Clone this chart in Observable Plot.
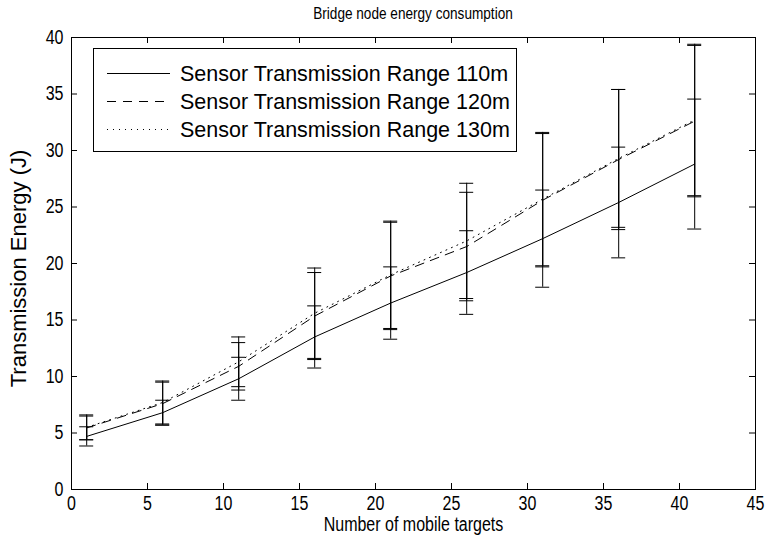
<!DOCTYPE html>
<html><head><meta charset="utf-8">
<script src="https://cdn.jsdelivr.net/npm/d3@7"></script>
<script src="https://cdn.jsdelivr.net/npm/@observablehq/plot@0.6"></script>
<style>
body{margin:0;background:#fff;font-family:"Liberation Sans",Arial,sans-serif;}
#wrap{position:relative;width:778px;height:544px;overflow:hidden;}
#chart{position:absolute;left:0;top:0;}
#title{position:absolute;left:71px;width:684px;top:0;height:28px;line-height:28px;text-align:center;font-size:17px;color:#000;white-space:nowrap;transform:scaleX(0.8);transform-origin:342px 0;}
#legend{position:absolute;left:93px;top:48px;}
</style></head><body>
<div id="wrap"><div id="chart"></div><div id="title">Bridge node energy consumption</div><div id="legend"></div></div>
<script>
// ---- data ----
const targets = [1, 6, 11, 16, 21, 26, 31, 36, 41];
const energy110 = [4.7, 6.8, 9.8, 13.5, 16.5, 19.2, 22.2, 25.4, 28.8];
const error110  = [0.85, 1.1, 1.9, 2.75, 3.2, 3.7, 4.3, 4.9, 5.75];
const energy120 = [5.45, 7.6, 10.9, 15.35, 18.9, 21.5, 25.6, 29.2, 32.6];
const error120  = [1.05, 1.9, 2.1, 3.85, 4.75, 4.8, 5.9, 6.2, 6.7];
const energy130 = [5.5, 7.7, 11.3, 15.6, 19.0, 22.0, 25.7, 29.3, 32.7];
const error130  = [1.1, 1.9, 2.2, 4.0, 4.75, 5.1, 5.9, 6.1, 6.7];
const seriesNames = ["Sensor Transmission Range 110m", "Sensor Transmission Range 120m", "Sensor Transmission Range 130m"];
const xTicks = [0, 5, 10, 15, 20, 25, 30, 35, 40, 45];
const yTicks = [0, 5, 10, 15, 20, 25, 30, 35, 40];
const titleText = "Bridge node energy consumption";
const xLabel = "Number of mobile targets";
const yLabel = "Transmission Energy (J)";

// ---- build table ----
const seriesValues = [[energy110, error110], [energy120, error120], [energy130, error130]];
const rows = [];
seriesNames.forEach((name, s) => {
  targets.forEach((t, i) => rows.push({series: name, x: t, y: seriesValues[s][0][i], e: seriesValues[s][1][i]}));
});
const dashes = [null, "9,7", "1,5"];

const W = 778, H = 544;
const mL = 71, mR = 23, mT = 37, mB = 55;
const plotW = W - mL - mR, plotH = H - mT - mB;
const font = "'Liberation Sans', Arial, sans-serif";

const marks = [
  Plot.frame({stroke: "#000", strokeWidth: 1}),
  Plot.tickX(xTicks, {x: d => d, insetTop: plotH - 6, stroke: "#000"}),
  Plot.tickX(xTicks, {x: d => d, insetBottom: plotH - 6, stroke: "#000"}),
  Plot.tickY(yTicks, {y: d => d, insetRight: plotW - 6, stroke: "#000"}),
  Plot.tickY(yTicks, {y: d => d, insetLeft: plotW - 6, stroke: "#000"}),
  Plot.axisX(xTicks, {tickSize: 0, tickPadding: 6, fontSize: 20, label: null}),
  Plot.axisY(yTicks, {tickSize: 0, tickPadding: 8, fontSize: 20, label: null}),
  Plot.text([xLabel], {frameAnchor: "bottom", dy: 41, text: d => d, fontSize: 20, fill: "#000", ariaLabel: () => "xlabel"}),
  Plot.text([yLabel], {frameAnchor: "left", dx: -53, dy: 5, rotate: -90, textAnchor: "middle", text: d => d, fontSize: 22, fill: "#000"})
];
seriesNames.forEach((name, s) => {
  const d = rows.filter(r => r.series === name);
  marks.push(
    Plot.line(d, {x: "x", y: "y", stroke: "#000", strokeWidth: 1, strokeDasharray: dashes[s] || undefined}),
    Plot.ruleX(d, {x: "x", y1: r => r.y - r.e, y2: r => r.y + r.e, stroke: "#000", strokeWidth: 1}),
    Plot.ruleY(d, {y: r => r.y - r.e, x1: "x", x2: "x", insetLeft: -7, insetRight: -7, stroke: "#000", strokeWidth: 1}),
    Plot.ruleY(d, {y: r => r.y + r.e, x1: "x", x2: "x", insetLeft: -7, insetRight: -7, stroke: "#000", strokeWidth: 1})
  );
});

const chart = Plot.plot({
  width: W, height: H,
  marginLeft: mL, marginRight: mR, marginTop: mT, marginBottom: mB,
  style: {fontFamily: font, fontSize: "20px", color: "#000", background: "#fff", overflow: "visible"},
  x: {domain: [0, 45]},
  y: {domain: [0, 40]},
  marks
});
document.getElementById("chart").appendChild(chart);
document.getElementById("title").textContent = titleText;

// horizontally condense the horizontal texts (the reference glyphs are tall and narrow)
function condense(el, sx) {
  const t = el.getAttribute("transform") || "";
  el.setAttribute("transform", `${t} scale(${sx},1)`);
}
chart.querySelectorAll('[aria-label="x-axis tick label"] text, [aria-label="y-axis tick label"] text, text[aria-label="xlabel"]')
  .forEach(el => condense(el, 0.8));

// ---- legend ----
const lg = d3.select("#legend").append("svg").attr("width", 424).attr("height", 104)
  .style("font-family", font);
lg.append("rect").attr("x", 0.5).attr("y", 0.5).attr("width", 423).attr("height", 103)
  .attr("fill", "#fff").attr("stroke", "#000");
seriesNames.forEach((name, s) => {
  const y = 25.5 + s * 28;
  lg.append("line").attr("x1", 14).attr("x2", 77).attr("y1", y).attr("y2", y)
    .attr("stroke", "#000").attr("stroke-dasharray", dashes[s]);
  lg.append("text").attr("x", 87).attr("y", y).attr("dy", "0.35em")
    .attr("font-size", 21.5).attr("fill", "#000").text(name);
});
</script>
</body></html>
